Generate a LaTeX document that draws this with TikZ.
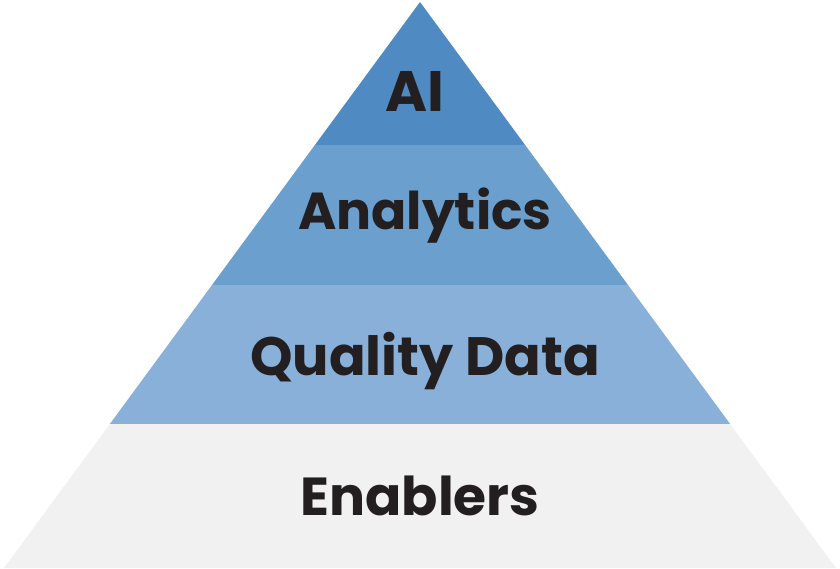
\documentclass[tikz,border=0pt]{standalone}
\usepackage{fontspec}
\setmainfont{Poppins}
\definecolor{stufeA}{HTML}{4F8AC3}
\definecolor{stufeB}{HTML}{6A9FCE}
\definecolor{stufeC}{HTML}{88B0D9}
\definecolor{stufeD}{HTML}{F1F1F1}
\definecolor{schrift}{HTML}{231F20}

\begin{document}
\begin{tikzpicture}[x=1pt,y=-1pt,
    beschriftung/.style={anchor=base,text=schrift,font=\bfseries,inner sep=0pt}]
  \useasboundingbox (0,0) rectangle (840,569);

  % Pyramide als Clip
  \begin{scope}
    \clip (420,2) -- (840-4,568) -- (4,568) -- cycle;
    \fill[stufeA] (0,0) rectangle (840,145);   % Spitze
    \fill[stufeB] (0,145) rectangle (840,285);
    \fill[stufeC] (0,285) rectangle (840,424);
    \fill[stufeD] (0,424) rectangle (840,569); % Basis
  \end{scope}

  % Beschriftungen
  \node[beschriftung,font=\bfseries\fontsize{57}{57}\selectfont] (ai) at (415,112) {AI};
  \node[beschriftung,font=\bfseries\fontsize{52}{52}\selectfont] (analytics) at (425,230) {Analytics};
  \node[beschriftung,font=\bfseries\fontsize{54}{54}\selectfont] (quality) at (425,375) {Quality Data};
  \node[beschriftung,font=\bfseries\fontsize{53.5}{53.5}\selectfont] (enablers) at (420,515) {Enablers};
\end{tikzpicture}
\end{document}
